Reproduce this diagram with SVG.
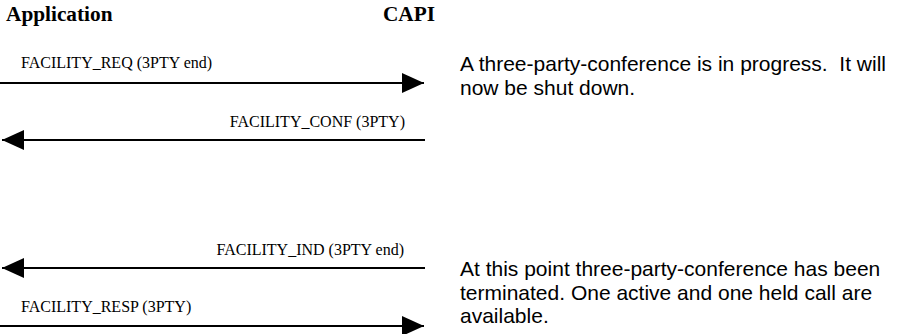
<svg xmlns="http://www.w3.org/2000/svg" width="897" height="334" viewBox="0 0 897 334">
<defs>
<style>
.hdr{font-family:"Liberation Serif","Times New Roman",serif;font-weight:bold;font-size:21.3px;fill:#000}
.lbl{font-family:"Liberation Serif","Times New Roman",serif;font-size:16px;fill:#000}
.note{font-family:"Liberation Sans",Arial,sans-serif;font-size:21px;fill:#000}
.msg{stroke:#000;stroke-width:2;fill:none}
</style>
<marker id="ah" viewBox="0 0 22 20" refX="22" refY="10" markerWidth="22" markerHeight="20" markerUnits="userSpaceOnUse" orient="auto">
<path d="M0,0 L22,10 L0,20 Z" fill="#000"/>
</marker>
</defs>
<rect width="897" height="334" fill="#fff"/>
<g id="application"><text class="hdr" x="6" y="21">Application</text></g>
<g id="capi"><text class="hdr" x="435" y="21" text-anchor="end">CAPI</text></g>
<g id="connectors">
<line class="msg" x1="0" y1="83" x2="424" y2="83" marker-end="url(#ah)"/>
<line class="msg" x1="425" y1="140" x2="2" y2="140" marker-end="url(#ah)"/>
<line class="msg" x1="425" y1="268" x2="2" y2="268" marker-end="url(#ah)"/>
<line class="msg" x1="0" y1="326" x2="424" y2="326" marker-end="url(#ah)"/>
<text class="lbl" x="21" y="68">FACILITY_REQ (3PTY end)</text>
<text class="lbl" x="405" y="127" text-anchor="end">FACILITY_CONF (3PTY)</text>
<text class="lbl" x="404" y="255" text-anchor="end">FACILITY_IND (3PTY end)</text>
<text class="lbl" x="21" y="312">FACILITY_RESP (3PTY)</text>
</g>
<g id="note1"><text class="note" x="460" y="71" xml:space="preserve">A three-party-conference is in progress.  It will</text><text class="note" x="460" y="94.5">now be shut down.</text></g>
<g id="note2"><text class="note" x="460" y="276">At this point three-party-conference has been</text><text class="note" x="460" y="299.5">terminated. One active and one held call are</text><text class="note" x="460" y="323">available.</text></g>
</svg>
